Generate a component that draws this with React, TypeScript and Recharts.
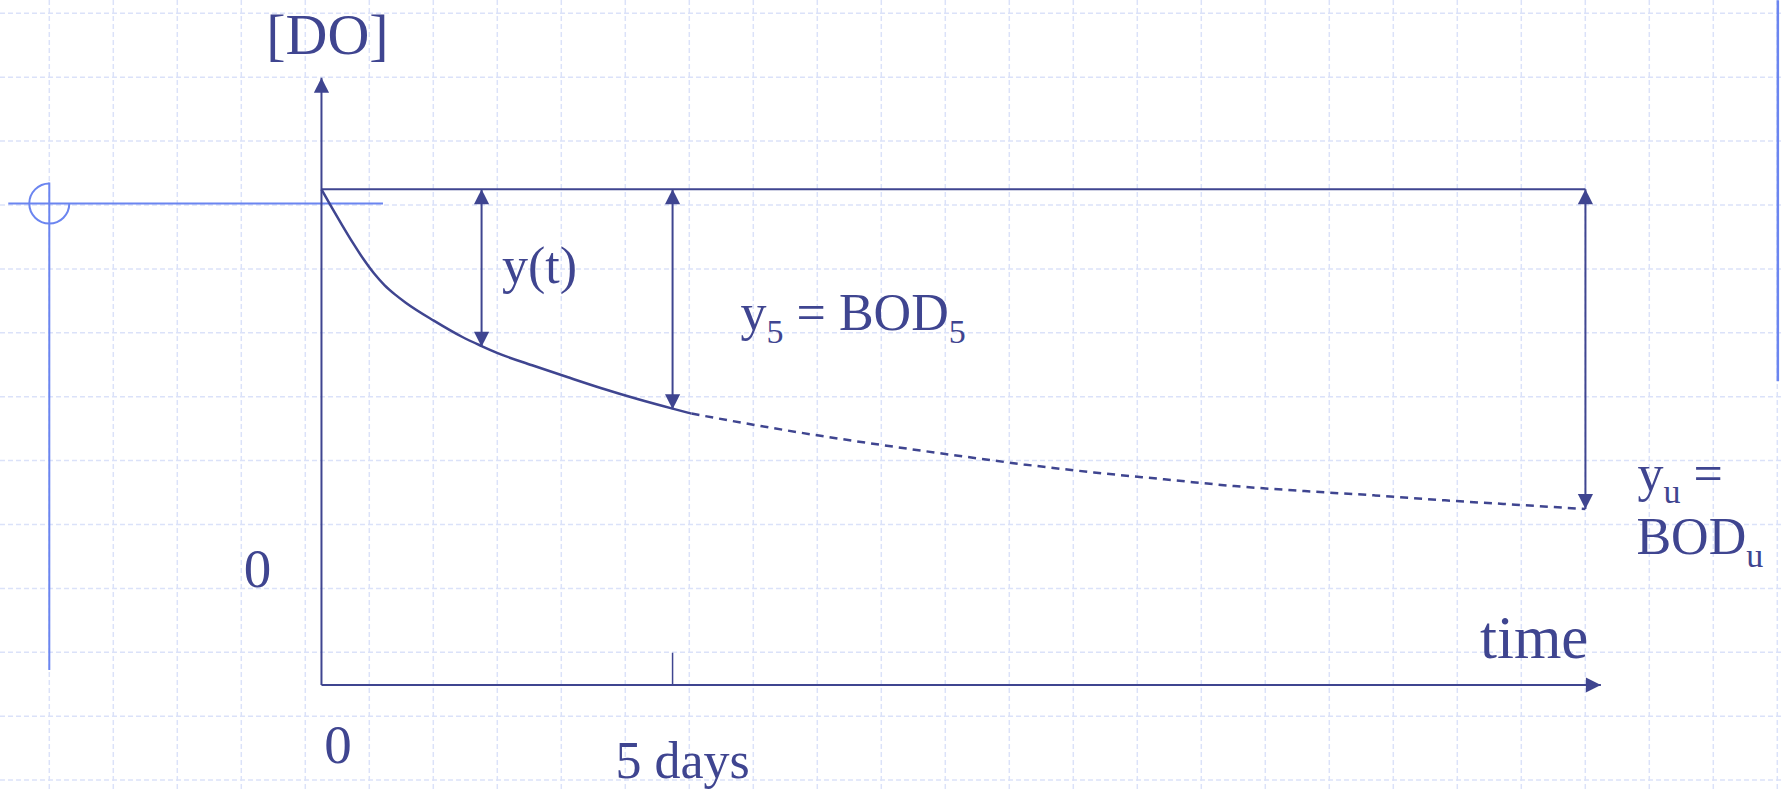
import React from 'react';
import {
  ComposedChart,
  Line,
  XAxis,
  YAxis,
  CartesianGrid,
  ReferenceLine,
  ReferenceDot,
} from 'recharts';

const W = 1781;
const H = 791;
const NAVY = '#3f4590';
const CURSOR = '#6b85f0';
const GRID = '#dbe2f9';
const FONT = '"Liberation Serif", "Times New Roman", serif';

// BOD curve (days, DO in sketch units where initial DO = 8)
const solidDays = [0, 0.15, 0.3, 0.45, 0.6, 0.75, 0.9, 1.05, 1.2, 1.6, 2.0, 2.28, 2.5, 3.0, 3.5, 4.0, 4.5, 5.0, 5.27];
const solidDO = [8.0, 7.7, 7.41, 7.13, 6.87, 6.64, 6.45, 6.3, 6.17, 5.88, 5.62, 5.47, 5.36, 5.16, 4.97, 4.785, 4.615, 4.46, 4.38];
const dashedDays = [5.27, 6, 7, 8, 9, 10, 11, 12, 13, 14, 15, 16, 17, 18];
const dashedDO = [4.38, 4.23, 4.04, 3.87, 3.71, 3.56, 3.43, 3.32, 3.21, 3.13, 3.06, 2.98, 2.91, 2.84];

// initial DO level and the three deficit arrows: y(t), y5, yu
const DO0 = 8;
const arrowDays = [2.28, 5, 18];
const arrowLowDO = [5.46, 4.45, 2.84];

// axes
const xAxisEnd = 18.22;
const yAxisTop = 9.8;
const tickDay = 5;
const tickHeight = 0.52;

// view window (the whole slide)
const X_DOMAIN = [-4.578, 20.785];
const Y_DOMAIN = [-1.711, 11.055];

// slide cursor leftovers
const cursorDay = -3.876;
const cursorDO = 7.77;
const cursorLineDays = [-4.46, 0.876];
const cursorLineDO = [8.11, 0.24];
const edgeLineDay = 20.74;
const edgeLineDO = [11.05, 4.9];

const solidData = solidDays.map((t, i) => ({ t, DO: solidDO[i] }));
const dashedData = dashedDays.map((t, i) => ({ t, DO: dashedDO[i] }));

const gridX = Array.from({ length: 28 }, (_, k) => 49.3 + 64 * k);
const gridY = Array.from({ length: 13 }, (_, k) => 13.3 + 63.9 * k);

const HEAD_LEN = 15;
const HEAD_HALF = 7.6;

function head(tx: number, ty: number, fx: number, fy: number) {
  const dx = tx - fx;
  const dy = ty - fy;
  const len = Math.hypot(dx, dy) || 1;
  const ux = dx / len;
  const uy = dy / len;
  const bx = tx - ux * HEAD_LEN;
  const by = ty - uy * HEAD_LEN;
  return `${tx},${ty} ${bx - uy * HEAD_HALF},${by + ux * HEAD_HALF} ${bx + uy * HEAD_HALF},${by - ux * HEAD_HALF}`;
}

const arrowShape = (heads: 'both' | 'up' | 'right' | 'none', color = NAVY, width = 2) => (p: any) => {
  const a = { x: p.x1, y: p.y1 };
  const b = { x: p.x2, y: p.y2 };
  let tips: [typeof a, typeof a][] = [];
  if (heads === 'both') tips = [[a, b], [b, a]];
  if (heads === 'up') tips = a.y < b.y ? [[a, b]] : [[b, a]];
  if (heads === 'right') tips = a.x > b.x ? [[a, b]] : [[b, a]];
  return (
    <g>
      <line x1={a.x} y1={a.y} x2={b.x} y2={b.y} stroke={color} strokeWidth={width} />
      {tips.map(([tip, from], i) => (
        <polygon key={i} points={head(tip.x, tip.y, from.x, from.y)} fill={color} />
      ))}
    </g>
  );
};

const textAt =
  (dx: number, dy: number, size: number, anchor: 'start' | 'middle' | 'end', content: React.ReactNode) =>
  (p: any) => (
    <text
      x={p.cx + dx}
      y={p.cy + dy}
      fontSize={size}
      fill={NAVY}
      fontFamily={FONT}
      textAnchor={anchor}
    >
      {content}
    </text>
  );

const cursorArc = (p: any) => {
  const r = 20;
  return (
    <path
      d={`M ${p.cx} ${p.cy - r} A ${r} ${r} 0 1 0 ${p.cx + r} ${p.cy}`}
      fill="none"
      stroke={CURSOR}
      strokeWidth={2}
    />
  );
};

export default function App() {
  return (
    <div style={{ position: 'absolute', left: 0, top: 0, width: W, height: H, background: '#fff' }}>
      <ComposedChart width={W} height={H} margin={{ top: 0, right: 0, bottom: 0, left: 0 }}>
        <CartesianGrid
          verticalPoints={gridX}
          horizontalPoints={gridY}
          stroke={GRID}
          strokeWidth={1.5}
          strokeDasharray="5 3"
        />
        <XAxis type="number" dataKey="t" domain={X_DOMAIN} allowDataOverflow hide />
        <YAxis type="number" domain={Y_DOMAIN} allowDataOverflow hide />

        {/* cursor remnants on the slide */}
        <ReferenceLine
          segment={[{ x: cursorLineDays[0], y: cursorDO }, { x: cursorLineDays[1], y: cursorDO }]}
          ifOverflow="visible"
          shape={arrowShape('none', CURSOR, 2)}
        />
        <ReferenceLine
          segment={[{ x: cursorDay, y: cursorLineDO[0] }, { x: cursorDay, y: cursorLineDO[1] }]}
          ifOverflow="visible"
          shape={arrowShape('none', CURSOR, 2)}
        />
        <ReferenceDot x={cursorDay} y={cursorDO} r={0} ifOverflow="visible" shape={cursorArc} />
        <ReferenceLine
          segment={[{ x: edgeLineDay, y: edgeLineDO[0] }, { x: edgeLineDay, y: edgeLineDO[1] }]}
          ifOverflow="visible"
          shape={arrowShape('none', CURSOR, 2.5)}
        />

        {/* axes */}
        <ReferenceLine
          segment={[{ x: 0, y: 0 }, { x: 0, y: yAxisTop }]}
          ifOverflow="visible"
          shape={arrowShape('up')}
        />
        <ReferenceLine
          segment={[{ x: 0, y: 0 }, { x: xAxisEnd, y: 0 }]}
          ifOverflow="visible"
          shape={arrowShape('right')}
        />
        <ReferenceLine
          segment={[{ x: tickDay, y: 0 }, { x: tickDay, y: tickHeight }]}
          ifOverflow="visible"
          shape={arrowShape('none', NAVY, 1.5)}
        />

        {/* initial DO level */}
        <ReferenceLine
          segment={[{ x: 0, y: DO0 }, { x: arrowDays[2], y: DO0 }]}
          ifOverflow="visible"
          shape={arrowShape('none', NAVY, 2)}
        />

        {arrowDays.map((d, i) => (
          <ReferenceLine
            key={d}
            segment={[{ x: d, y: DO0 }, { x: d, y: arrowLowDO[i] }]}
            ifOverflow="visible"
            shape={arrowShape('both')}
          />
        ))}

        <Line
          data={solidData}
          dataKey="DO"
          type="monotone"
          stroke={NAVY}
          strokeWidth={2.5}
          dot={false}
          activeDot={false}
          isAnimationActive={false}
        />
        <Line
          data={dashedData}
          dataKey="DO"
          type="monotone"
          stroke={NAVY}
          strokeWidth={2.5}
          strokeDasharray="8 6"
          dot={false}
          activeDot={false}
          isAnimationActive={false}
        />

        {/* labels */}
        <ReferenceDot x={0} y={yAxisTop} r={0} ifOverflow="visible" shape={textAt(6, -24, 58, 'middle', '[DO]')} />
        <ReferenceDot
          x={arrowDays[0]}
          y={DO0}
          r={0}
          ifOverflow="visible"
          shape={textAt(58, 94, 52, 'middle', 'y(t)')}
        />
        <ReferenceDot
          x={arrowDays[1]}
          y={DO0}
          r={0}
          ifOverflow="visible"
          shape={textAt(68, 141, 52, 'start', (
            <>
              y<tspan fontSize={34} dy={13}>5</tspan>
              <tspan dy={-13}>{'\u00a0=\u00a0BOD'}</tspan>
              <tspan fontSize={34} dy={13}>5</tspan>
            </>
          ))}
        />
        <ReferenceDot
          x={arrowDays[2]}
          y={DO0}
          r={0}
          ifOverflow="visible"
          shape={textAt(52, 302, 52, 'start', (
            <>
              y<tspan fontSize={34} dy={12}>u</tspan>
              <tspan dy={-12}>{'\u00a0='}</tspan>
            </>
          ))}
        />
        <ReferenceDot
          x={arrowDays[2]}
          y={DO0}
          r={0}
          ifOverflow="visible"
          shape={textAt(51, 365, 52, 'start', (
            <>
              BOD<tspan fontSize={34} dy={13}>u</tspan>
            </>
          ))}
        />
        <ReferenceDot x={arrowDays[2]} y={0} r={0} ifOverflow="visible" shape={textAt(3, -27, 61, 'end', 'time')} />
        <ReferenceDot x={0} y={0} r={0} ifOverflow="visible" shape={textAt(16.5, 78, 55, 'middle', '0')} />
        <ReferenceDot x={0} y={0} r={0} ifOverflow="visible" shape={textAt(-64, -98, 55, 'middle', '0')} />
        <ReferenceDot x={tickDay} y={0} r={0} ifOverflow="visible" shape={textAt(10, 93, 52, 'middle', '5 days')} />
      </ComposedChart>
    </div>
  );
}
